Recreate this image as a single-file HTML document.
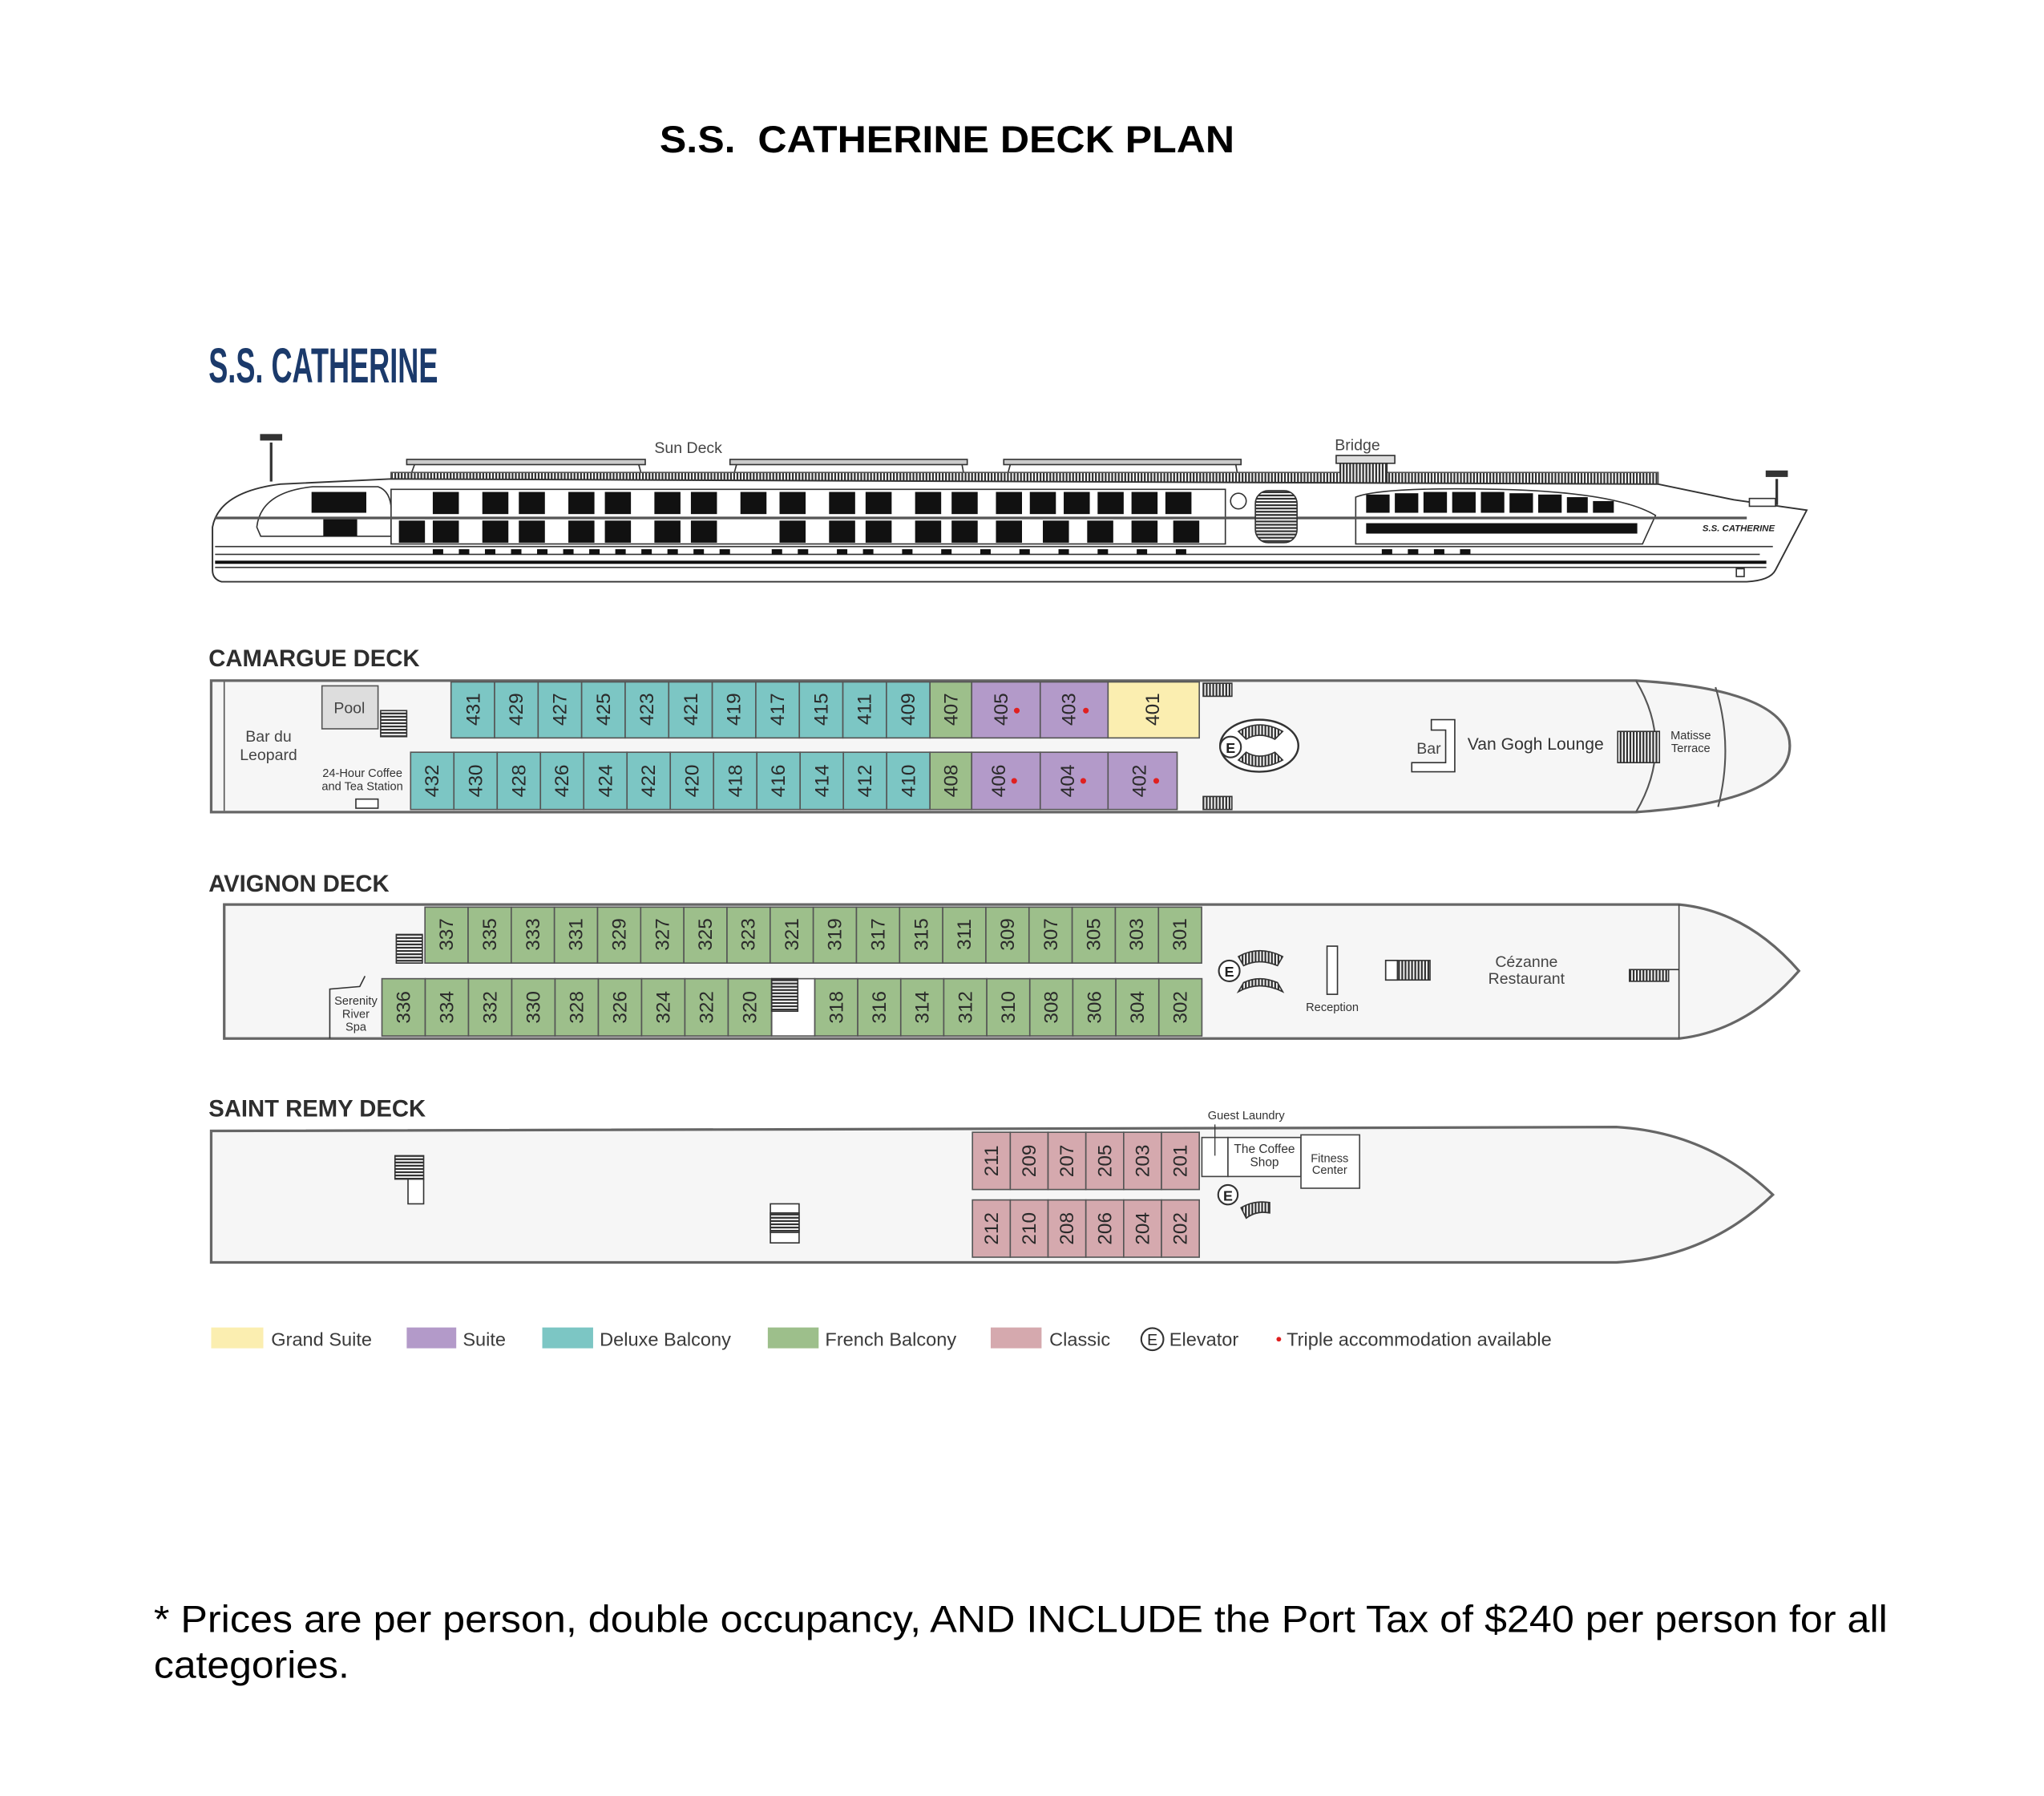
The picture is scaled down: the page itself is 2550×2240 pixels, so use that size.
<!DOCTYPE html>
<html><head><meta charset="utf-8"><style>
html,body{margin:0;padding:0;background:#fff;}
svg{display:block;}
text{font-family:"Liberation Sans",sans-serif;}
.c{font-size:15px;fill:#2a2a2a;text-anchor:middle;}
.dt{font-size:18px;font-weight:bold;fill:#2e2e2e;}
.lb{fill:#444;font-size:12px;}
.lg{fill:#3a3a3a;font-size:14.5px;}
</style></head><body>
<svg width="2550" height="2240" viewBox="0 0 1568 1380" preserveAspectRatio="none" xmlns="http://www.w3.org/2000/svg">
<defs>
<pattern id="st" width="2.5" height="10" patternUnits="userSpaceOnUse"><rect width="2.5" height="10" fill="#fff"/><rect width="1.4" height="10" fill="#333"/></pattern>
<pattern id="sth" width="10" height="2.5" patternUnits="userSpaceOnUse"><rect width="10" height="2.5" fill="#fff"/><rect width="10" height="1.4" fill="#333"/></pattern>
</defs>
<rect width="1568" height="1380" fill="#fff"/>
<text x="506" y="117" font-size="29" font-weight="bold" fill="#000" textLength="441" lengthAdjust="spacingAndGlyphs" xml:space="preserve">S.S.  CATHERINE DECK PLAN</text>
<text x="160" y="294" font-size="38" font-weight="bold" fill="#1b3a6b" textLength="176" lengthAdjust="spacingAndGlyphs">S.S. CATHERINE</text>

<!-- ship profile -->
<g stroke="#333" fill="none" stroke-width="1">
<rect x="312" y="353" width="183" height="4" fill="#ccc"/>
<rect x="560" y="353" width="182" height="4" fill="#ccc"/>
<rect x="770" y="353" width="182" height="4" fill="#ccc"/>
<line x1="318" y1="357" x2="314" y2="368"/><line x1="490" y1="357" x2="493" y2="368"/>
<line x1="565" y1="357" x2="562" y2="368"/><line x1="738" y1="357" x2="740" y2="368"/>
<line x1="775" y1="357" x2="772" y2="368"/><line x1="948" y1="357" x2="950" y2="368"/>
<rect x="300" y="363" width="972" height="9" fill="url(#st)" stroke="#555"/>
<rect x="1025" y="350" width="45" height="6" fill="#ddd"/>
<rect x="1028" y="356" width="36" height="16" fill="url(#st)"/>
<line x1="208" y1="340" x2="208" y2="370" stroke-width="2"/><rect x="200" y="334" width="16" height="4" fill="#333"/>
<line x1="1363" y1="368" x2="1363" y2="388" stroke-width="2"/><rect x="1355" y="362" width="16" height="4" fill="#333"/>
<path d="M163 405 Q168 378 215 372 L300 368 L1272 372 L1330 384 L1386 392 L1362 438 Q1358 446 1340 447 L170 447 Q163 445 163 438 Z" fill="#fff" stroke="#333" stroke-width="1.2"/>
<path d="M197 405 Q200 378 240 374 L290 374 Q302 378 300 400 L300 412 L200 412 Z" fill="#fff"/>
<path d="M300 376 L940 376 L940 418 L300 418 Z" fill="#fff"/>
<path d="M1040 418 L1040 382 Q1060 374 1150 376 Q1240 378 1270 396 L1260 418 Z" fill="#fff"/>
<line x1="165" y1="398" x2="1340" y2="398" stroke="#555" stroke-width="2"/>
<line x1="165" y1="420" x2="1360" y2="420"/>
<line x1="165" y1="426" x2="1350" y2="426"/>
<line x1="165" y1="432" x2="1355" y2="432" stroke-width="2.5" stroke="#111"/>
<line x1="165" y1="436" x2="1355" y2="436"/>
<rect x="963" y="377" width="32" height="40" rx="10" fill="url(#sth)"/>
<circle cx="950" cy="385" r="6" fill="#fff"/>
<rect x="1332" y="437" width="6" height="6" fill="#fff"/>
<rect x="1342" y="383" width="20" height="6" fill="#fff"/>
</g>
<g fill="#111">
<rect x="239" y="378" width="42" height="16"/><rect x="248" y="399" width="26" height="13"/>
<rect x="332" y="378" width="20" height="17"/><rect x="370" y="378" width="20" height="17"/><rect x="398" y="378" width="20" height="17"/><rect x="436" y="378" width="20" height="17"/><rect x="464" y="378" width="20" height="17"/><rect x="502" y="378" width="20" height="17"/><rect x="530" y="378" width="20" height="17"/><rect x="568" y="378" width="20" height="17"/><rect x="598" y="378" width="20" height="17"/><rect x="636" y="378" width="20" height="17"/><rect x="664" y="378" width="20" height="17"/><rect x="702" y="378" width="20" height="17"/><rect x="730" y="378" width="20" height="17"/><rect x="764" y="378" width="20" height="17"/><rect x="790" y="378" width="20" height="17"/><rect x="816" y="378" width="20" height="17"/><rect x="842" y="378" width="20" height="17"/><rect x="868" y="378" width="20" height="17"/><rect x="894" y="378" width="20" height="17"/>
<rect x="306" y="400" width="20" height="17"/><rect x="332" y="400" width="20" height="17"/><rect x="370" y="400" width="20" height="17"/><rect x="398" y="400" width="20" height="17"/><rect x="436" y="400" width="20" height="17"/><rect x="464" y="400" width="20" height="17"/><rect x="502" y="400" width="20" height="17"/><rect x="530" y="400" width="20" height="17"/><rect x="598" y="400" width="20" height="17"/><rect x="636" y="400" width="20" height="17"/><rect x="664" y="400" width="20" height="17"/><rect x="702" y="400" width="20" height="17"/><rect x="730" y="400" width="20" height="17"/><rect x="764" y="400" width="20" height="17"/><rect x="800" y="400" width="20" height="17"/><rect x="834" y="400" width="20" height="17"/><rect x="868" y="400" width="20" height="17"/><rect x="900" y="400" width="20" height="17"/>
<rect x="1048" y="380" width="18" height="14"/><rect x="1070" y="379" width="18" height="15"/><rect x="1092" y="378" width="18" height="16"/><rect x="1114" y="378" width="18" height="16"/><rect x="1136" y="378" width="18" height="16"/><rect x="1158" y="379" width="18" height="15"/><rect x="1180" y="380" width="18" height="14"/><rect x="1202" y="382" width="16" height="12"/><rect x="1222" y="385" width="16" height="9"/>
<rect x="1048" y="402" width="208" height="8"/>
</g>
<g fill="#111"><rect x="332" y="422" width="8" height="4"/><rect x="352" y="422" width="8" height="4"/><rect x="372" y="422" width="8" height="4"/><rect x="392" y="422" width="8" height="4"/><rect x="412" y="422" width="8" height="4"/><rect x="432" y="422" width="8" height="4"/><rect x="452" y="422" width="8" height="4"/><rect x="472" y="422" width="8" height="4"/><rect x="492" y="422" width="8" height="4"/><rect x="512" y="422" width="8" height="4"/><rect x="532" y="422" width="8" height="4"/><rect x="552" y="422" width="8" height="4"/><rect x="592" y="422" width="8" height="4"/><rect x="612" y="422" width="8" height="4"/><rect x="642" y="422" width="8" height="4"/><rect x="662" y="422" width="8" height="4"/><rect x="692" y="422" width="8" height="4"/><rect x="722" y="422" width="8" height="4"/><rect x="752" y="422" width="8" height="4"/><rect x="782" y="422" width="8" height="4"/><rect x="812" y="422" width="8" height="4"/><rect x="842" y="422" width="8" height="4"/><rect x="872" y="422" width="8" height="4"/><rect x="902" y="422" width="8" height="4"/><rect x="1060" y="422" width="8" height="4"/><rect x="1080" y="422" width="8" height="4"/><rect x="1100" y="422" width="8" height="4"/><rect x="1120" y="422" width="8" height="4"/></g>
<text x="502" y="348" class="lb">Sun Deck</text>
<text x="1024" y="346" class="lb">Bridge</text>
<text x="1306" y="408" font-size="7" font-style="italic" font-weight="bold" fill="#222" font-family="Liberation Serif">S.S. CATHERINE</text>

<!-- CAMARGUE -->
<text x="160" y="512" class="dt">CAMARGUE DECK</text>
<path d="M162 523 L1255 523 Q1373 530 1373 573 Q1373 616 1255 624 L162 624 Z" fill="#f6f6f6" stroke="#666" stroke-width="2"/>
<path d="M1255 523 Q1285 573 1255 624 M1316 528 Q1330 573 1318 620" fill="none" stroke="#555" stroke-width="1.3"/>
<line x1="172" y1="524" x2="172" y2="623" stroke="#555"/>
<text x="206" y="570" class="lb" text-anchor="middle">Bar du</text><text x="206" y="584" class="lb" text-anchor="middle">Leopard</text>
<rect x="247" y="527" width="43" height="33" fill="#ddd" stroke="#555"/><text x="268" y="548" class="lb" text-anchor="middle">Pool</text>
<rect x="292" y="546" width="20" height="20" fill="url(#sth)" stroke="#333"/>
<text x="278" y="597" font-size="9" fill="#333" text-anchor="middle">24-Hour Coffee</text><text x="278" y="607" font-size="9" fill="#333" text-anchor="middle">and Tea Station</text>
<rect x="273" y="614" width="17" height="7" fill="#fff" stroke="#333"/>
<g stroke="#555" stroke-width="1">
<rect x="346" y="524" width="33.4" height="43" fill="#7cc6c4"/><rect x="379.4" y="524" width="33.4" height="43" fill="#7cc6c4"/><rect x="412.8" y="524" width="33.4" height="43" fill="#7cc6c4"/><rect x="446.2" y="524" width="33.4" height="43" fill="#7cc6c4"/><rect x="479.6" y="524" width="33.4" height="43" fill="#7cc6c4"/><rect x="513" y="524" width="33.4" height="43" fill="#7cc6c4"/><rect x="546.4" y="524" width="33.4" height="43" fill="#7cc6c4"/><rect x="579.8" y="524" width="33.4" height="43" fill="#7cc6c4"/><rect x="613.2" y="524" width="33.4" height="43" fill="#7cc6c4"/><rect x="646.6" y="524" width="33.4" height="43" fill="#7cc6c4"/><rect x="680" y="524" width="33.4" height="43" fill="#7cc6c4"/>
<rect x="713.4" y="524" width="32" height="43" fill="#9dbf8b"/><rect x="745.4" y="524" width="52.6" height="43" fill="#b39ac9"/><rect x="798" y="524" width="52" height="43" fill="#b39ac9"/><rect x="850" y="524" width="70" height="43" fill="#fbeeb0"/>
<rect x="315" y="578" width="33.2" height="44" fill="#7cc6c4"/><rect x="348.2" y="578" width="33.2" height="44" fill="#7cc6c4"/><rect x="381.4" y="578" width="33.2" height="44" fill="#7cc6c4"/><rect x="414.6" y="578" width="33.2" height="44" fill="#7cc6c4"/><rect x="447.8" y="578" width="33.2" height="44" fill="#7cc6c4"/><rect x="481" y="578" width="33.2" height="44" fill="#7cc6c4"/><rect x="514.2" y="578" width="33.2" height="44" fill="#7cc6c4"/><rect x="547.4" y="578" width="33.2" height="44" fill="#7cc6c4"/><rect x="580.6" y="578" width="33.2" height="44" fill="#7cc6c4"/><rect x="613.8" y="578" width="33.2" height="44" fill="#7cc6c4"/><rect x="647" y="578" width="33.2" height="44" fill="#7cc6c4"/><rect x="680.2" y="578" width="33.2" height="44" fill="#7cc6c4"/>
<rect x="713.4" y="578" width="32" height="44" fill="#9dbf8b"/><rect x="745.4" y="578" width="52.6" height="44" fill="#b39ac9"/><rect x="798" y="578" width="52" height="44" fill="#b39ac9"/><rect x="850" y="578" width="53" height="44" fill="#b39ac9"/>
</g>
<g>
<text class="c" transform="translate(363 545) rotate(-90)" dy="5">431</text><text class="c" transform="translate(396 545) rotate(-90)" dy="5">429</text><text class="c" transform="translate(429.5 545) rotate(-90)" dy="5">427</text><text class="c" transform="translate(463 545) rotate(-90)" dy="5">425</text><text class="c" transform="translate(496 545) rotate(-90)" dy="5">423</text><text class="c" transform="translate(530 545) rotate(-90)" dy="5">421</text><text class="c" transform="translate(563 545) rotate(-90)" dy="5">419</text><text class="c" transform="translate(596.5 545) rotate(-90)" dy="5">417</text><text class="c" transform="translate(630 545) rotate(-90)" dy="5">415</text><text class="c" transform="translate(663 545) rotate(-90)" dy="5">411</text><text class="c" transform="translate(696.5 545) rotate(-90)" dy="5">409</text><text class="c" transform="translate(729.5 545) rotate(-90)" dy="5">407</text><text class="c" transform="translate(768 545) rotate(-90)" dy="5">405</text><text class="c" transform="translate(820 545) rotate(-90)" dy="5">403</text><text class="c" transform="translate(884 545) rotate(-90)" dy="5">401</text>
<text class="c" transform="translate(331.5 600) rotate(-90)" dy="5">432</text><text class="c" transform="translate(365 600) rotate(-90)" dy="5">430</text><text class="c" transform="translate(398 600) rotate(-90)" dy="5">428</text><text class="c" transform="translate(431 600) rotate(-90)" dy="5">426</text><text class="c" transform="translate(464.5 600) rotate(-90)" dy="5">424</text><text class="c" transform="translate(497.5 600) rotate(-90)" dy="5">422</text><text class="c" transform="translate(531 600) rotate(-90)" dy="5">420</text><text class="c" transform="translate(564 600) rotate(-90)" dy="5">418</text><text class="c" transform="translate(597 600) rotate(-90)" dy="5">416</text><text class="c" transform="translate(630.5 600) rotate(-90)" dy="5">414</text><text class="c" transform="translate(663.5 600) rotate(-90)" dy="5">412</text><text class="c" transform="translate(697 600) rotate(-90)" dy="5">410</text><text class="c" transform="translate(729.5 600) rotate(-90)" dy="5">408</text><text class="c" transform="translate(766 600) rotate(-90)" dy="5">406</text><text class="c" transform="translate(819 600) rotate(-90)" dy="5">404</text><text class="c" transform="translate(874 600) rotate(-90)" dy="5">402</text>
</g>
<g fill="#e02020"><circle cx="780" cy="546" r="2.2"/><circle cx="833" cy="546" r="2.2"/><circle cx="778" cy="600" r="2.2"/><circle cx="831" cy="600" r="2.2"/><circle cx="887" cy="600" r="2.2"/></g>
<rect x="923" y="525" width="22" height="10" fill="url(#st)" stroke="#333"/>
<rect x="923" y="612" width="22" height="10" fill="url(#st)" stroke="#333"/>
<ellipse cx="966" cy="573" rx="30" ry="20" fill="#fff" stroke="#333" stroke-width="1.5"/>
<path d="M950 562 Q966 552 984 562 L978 568 Q966 562 956 568 Z" fill="url(#st)" stroke="#333"/>
<path d="M950 584 Q966 594 984 584 L978 578 Q966 584 956 578 Z" fill="url(#st)" stroke="#333"/>
<circle cx="944" cy="574" r="8" fill="#fff" stroke="#333" stroke-width="1.3"/><text x="944" y="578.5" font-size="11" font-weight="bold" text-anchor="middle" fill="#222">E</text>
<path d="M1098 553 L1116 553 L1116 593 L1083 593 L1083 586 L1109 586 L1109 561 L1098 561 Z" fill="#fff" stroke="#333"/>
<text x="1096" y="579" class="lb" text-anchor="middle">Bar</text>
<text x="1178" y="576" font-size="13" fill="#333" text-anchor="middle">Van Gogh Lounge</text>
<rect x="1241" y="562" width="32" height="24" fill="url(#st)" stroke="#333"/>
<text x="1297" y="568" font-size="9" fill="#333" text-anchor="middle">Matisse</text><text x="1297" y="578" font-size="9" fill="#333" text-anchor="middle">Terrace</text>

<!-- AVIGNON -->
<text x="160" y="685" class="dt">AVIGNON DECK</text>
<path d="M172 695 L1288 695 Q1340 700 1380 746 Q1340 792 1288 798 L172 798 Z" fill="#f6f6f6" stroke="#666" stroke-width="2"/>
<line x1="1288" y1="695" x2="1288" y2="798" stroke="#444"/>
<g stroke="#555" fill="#9dbf8b">
<rect x="326" y="697" width="33.1" height="43"/><rect x="359.1" y="697" width="33.1" height="43"/><rect x="392.2" y="697" width="33.1" height="43"/><rect x="425.3" y="697" width="33.1" height="43"/><rect x="458.4" y="697" width="33.1" height="43"/><rect x="491.5" y="697" width="33.1" height="43"/><rect x="524.6" y="697" width="33.1" height="43"/><rect x="557.7" y="697" width="33.1" height="43"/><rect x="590.8" y="697" width="33.1" height="43"/><rect x="623.9" y="697" width="33.1" height="43"/><rect x="657" y="697" width="33.1" height="43"/><rect x="690.1" y="697" width="33.1" height="43"/><rect x="723.2" y="697" width="33.1" height="43"/><rect x="756.3" y="697" width="33.1" height="43"/><rect x="789.4" y="697" width="33.1" height="43"/><rect x="822.5" y="697" width="33.1" height="43"/><rect x="855.6" y="697" width="33.1" height="43"/><rect x="888.7" y="697" width="33.1" height="43"/>
<rect x="293" y="752" width="33.2" height="44"/><rect x="326.2" y="752" width="33.2" height="44"/><rect x="359.4" y="752" width="33.2" height="44"/><rect x="392.6" y="752" width="33.2" height="44"/><rect x="425.8" y="752" width="33.2" height="44"/><rect x="459" y="752" width="33.2" height="44"/><rect x="492.2" y="752" width="33.2" height="44"/><rect x="525.4" y="752" width="33.2" height="44"/><rect x="558.6" y="752" width="33.2" height="44"/>
<rect x="625" y="752" width="33" height="44"/><rect x="658" y="752" width="33" height="44"/><rect x="691" y="752" width="33" height="44"/><rect x="724" y="752" width="33" height="44"/><rect x="757" y="752" width="33" height="44"/><rect x="790" y="752" width="33" height="44"/><rect x="823" y="752" width="33" height="44"/><rect x="856" y="752" width="33" height="44"/><rect x="889" y="752" width="33" height="44"/>
</g>
<g>
<text class="c" transform="translate(342.5 718) rotate(-90)" dy="5">337</text><text class="c" transform="translate(375.6 718) rotate(-90)" dy="5">335</text><text class="c" transform="translate(408.7 718) rotate(-90)" dy="5">333</text><text class="c" transform="translate(441.8 718) rotate(-90)" dy="5">331</text><text class="c" transform="translate(475 718) rotate(-90)" dy="5">329</text><text class="c" transform="translate(508 718) rotate(-90)" dy="5">327</text><text class="c" transform="translate(541 718) rotate(-90)" dy="5">325</text><text class="c" transform="translate(574 718) rotate(-90)" dy="5">323</text><text class="c" transform="translate(607.3 718) rotate(-90)" dy="5">321</text><text class="c" transform="translate(640.4 718) rotate(-90)" dy="5">319</text><text class="c" transform="translate(673.5 718) rotate(-90)" dy="5">317</text><text class="c" transform="translate(706.6 718) rotate(-90)" dy="5">315</text><text class="c" transform="translate(739.7 718) rotate(-90)" dy="5">311</text><text class="c" transform="translate(772.8 718) rotate(-90)" dy="5">309</text><text class="c" transform="translate(806 718) rotate(-90)" dy="5">307</text><text class="c" transform="translate(839 718) rotate(-90)" dy="5">305</text><text class="c" transform="translate(872 718) rotate(-90)" dy="5">303</text><text class="c" transform="translate(905.2 718) rotate(-90)" dy="5">301</text>
<text class="c" transform="translate(309.6 774) rotate(-90)" dy="5">336</text><text class="c" transform="translate(342.8 774) rotate(-90)" dy="5">334</text><text class="c" transform="translate(376 774) rotate(-90)" dy="5">332</text><text class="c" transform="translate(409.2 774) rotate(-90)" dy="5">330</text><text class="c" transform="translate(442.4 774) rotate(-90)" dy="5">328</text><text class="c" transform="translate(475.6 774) rotate(-90)" dy="5">326</text><text class="c" transform="translate(508.8 774) rotate(-90)" dy="5">324</text><text class="c" transform="translate(542 774) rotate(-90)" dy="5">322</text><text class="c" transform="translate(575.2 774) rotate(-90)" dy="5">320</text>
<text class="c" transform="translate(641.5 774) rotate(-90)" dy="5">318</text><text class="c" transform="translate(674.5 774) rotate(-90)" dy="5">316</text><text class="c" transform="translate(707.5 774) rotate(-90)" dy="5">314</text><text class="c" transform="translate(740.5 774) rotate(-90)" dy="5">312</text><text class="c" transform="translate(773.5 774) rotate(-90)" dy="5">310</text><text class="c" transform="translate(806.5 774) rotate(-90)" dy="5">308</text><text class="c" transform="translate(839.5 774) rotate(-90)" dy="5">306</text><text class="c" transform="translate(872.5 774) rotate(-90)" dy="5">304</text><text class="c" transform="translate(905.5 774) rotate(-90)" dy="5">302</text>
</g>
<rect x="592" y="752" width="33" height="44" fill="#fff" stroke="#555"/>
<rect x="592" y="752" width="20" height="25" fill="url(#sth)" stroke="#333"/>
<rect x="304" y="718" width="20" height="22" fill="url(#sth)" stroke="#333"/>
<path d="M253 798 L253 760 L276 758 L280 750" fill="none" stroke="#333"/>
<text x="273" y="772" font-size="9" fill="#333" text-anchor="middle">Serenity</text><text x="273" y="782" font-size="9" fill="#333" text-anchor="middle">River</text><text x="273" y="792" font-size="9" fill="#333" text-anchor="middle">Spa</text>
<path d="M950 735 Q966 726 984 735 L980 742 Q966 736 954 742 Z" fill="url(#st)" stroke="#333"/>
<path d="M950 758 Q966 749 984 758 L980 751 Q966 745 954 751 Z" fill="url(#st)" stroke="#333" transform="translate(0 4)"/>
<circle cx="943" cy="746" r="8" fill="#fff" stroke="#333" stroke-width="1.3"/><text x="943" y="750.5" font-size="11" font-weight="bold" text-anchor="middle" fill="#222">E</text>
<rect x="1018" y="727" width="8" height="37" fill="#fff" stroke="#333"/>
<text x="1022" y="777" font-size="9" fill="#333" text-anchor="middle">Reception</text>
<rect x="1063" y="738" width="34" height="15" fill="url(#st)" stroke="#333"/><rect x="1063" y="738" width="9" height="15" fill="#fff" stroke="#333"/>
<text x="1171" y="743" class="lb" text-anchor="middle" font-size="12.5">Cézanne</text><text x="1171" y="756" class="lb" text-anchor="middle" font-size="12.5">Restaurant</text>
<rect x="1250" y="745" width="30" height="9" fill="url(#st)" stroke="#333"/><line x1="1280" y1="745" x2="1288" y2="745" stroke="#333"/>

<!-- SAINT REMY -->
<text x="160" y="858" class="dt">SAINT REMY DECK</text>
<path d="M162 869 L1240 866 Q1310 870 1360 918 Q1310 966 1240 970 L162 970 Z" fill="#f6f6f6" stroke="#666" stroke-width="2"/>
<g stroke="#555" fill="#d5a9ae">
<rect x="746" y="870" width="29" height="44"/><rect x="775" y="870" width="29" height="44"/><rect x="804" y="870" width="29" height="44"/><rect x="833" y="870" width="29" height="44"/><rect x="862" y="870" width="29" height="44"/><rect x="891" y="870" width="29" height="44"/>
<rect x="746" y="922" width="29" height="44"/><rect x="775" y="922" width="29" height="44"/><rect x="804" y="922" width="29" height="44"/><rect x="833" y="922" width="29" height="44"/><rect x="862" y="922" width="29" height="44"/><rect x="891" y="922" width="29" height="44"/>
</g>
<g>
<text class="c" transform="translate(760.5 892) rotate(-90)" dy="5">211</text><text class="c" transform="translate(789.5 892) rotate(-90)" dy="5">209</text><text class="c" transform="translate(818.5 892) rotate(-90)" dy="5">207</text><text class="c" transform="translate(847.5 892) rotate(-90)" dy="5">205</text><text class="c" transform="translate(876.5 892) rotate(-90)" dy="5">203</text><text class="c" transform="translate(905.5 892) rotate(-90)" dy="5">201</text>
<text class="c" transform="translate(760.5 944) rotate(-90)" dy="5">212</text><text class="c" transform="translate(789.5 944) rotate(-90)" dy="5">210</text><text class="c" transform="translate(818.5 944) rotate(-90)" dy="5">208</text><text class="c" transform="translate(847.5 944) rotate(-90)" dy="5">206</text><text class="c" transform="translate(876.5 944) rotate(-90)" dy="5">204</text><text class="c" transform="translate(905.5 944) rotate(-90)" dy="5">202</text>
</g>
<rect x="922" y="874" width="20" height="30" fill="#fff" stroke="#444"/>
<rect x="942" y="874" width="56" height="30" fill="#fff" stroke="#444"/>
<rect x="998" y="872" width="45" height="41" fill="#fff" stroke="#444"/>
<text x="956" y="860" font-size="9" fill="#333" text-anchor="middle">Guest Laundry</text>
<line x1="932" y1="864" x2="932" y2="888" stroke="#333" stroke-width="0.8"/>
<text x="970" y="886" font-size="9.5" fill="#333" text-anchor="middle">The Coffee</text><text x="970" y="896" font-size="9.5" fill="#333" text-anchor="middle">Shop</text>
<text x="1020" y="893" font-size="9" fill="#333" text-anchor="middle">Fitness</text><text x="1020" y="902" font-size="9" fill="#333" text-anchor="middle">Center</text>
<circle cx="942" cy="918" r="7.5" fill="#fff" stroke="#333" stroke-width="1.3"/><text x="942" y="922.5" font-size="11" font-weight="bold" text-anchor="middle" fill="#222">E</text>
<path d="M952 928 Q962 922 974 924 L974 932 Q964 930 956 936 Z" fill="url(#st)" stroke="#333"/>
<rect x="303" y="888" width="22" height="18" fill="url(#sth)" stroke="#333"/><rect x="313" y="906" width="12" height="19" fill="#fff" stroke="#333"/>
<rect x="591" y="925" width="22" height="30" fill="#fff" stroke="#333"/><rect x="591" y="932" width="22" height="15" fill="url(#sth)" stroke="#333"/>

<!-- legend -->
<rect x="162" y="1020" width="40" height="16" fill="#fbeeb0"/><text x="208" y="1034" class="lg">Grand Suite</text>
<rect x="312" y="1020" width="38" height="16" fill="#b39ac9"/><text x="355" y="1034" class="lg">Suite</text>
<rect x="416" y="1020" width="39" height="16" fill="#7cc6c4"/><text x="460" y="1034" class="lg">Deluxe Balcony</text>
<rect x="589" y="1020" width="39" height="16" fill="#9dbf8b"/><text x="633" y="1034" class="lg">French Balcony</text>
<rect x="760" y="1020" width="39" height="16" fill="#d5a9ae"/><text x="805" y="1034" class="lg">Classic</text>
<circle cx="884" cy="1029" r="8.5" fill="#fff" stroke="#333" stroke-width="1.3"/><text x="884" y="1033.5" font-size="12" text-anchor="middle" fill="#222">E</text>
<text x="897" y="1034" class="lg">Elevator</text>
<circle cx="981" cy="1029" r="1.8" fill="#e02020"/><text x="987" y="1034" class="lg">Triple accommodation available</text>

<text x="118" y="1254" font-size="29" fill="#000" textLength="1330" lengthAdjust="spacingAndGlyphs">* Prices are per person, double occupancy, AND INCLUDE the Port Tax of $240 per person for all</text>
<text x="118" y="1289" font-size="29" fill="#000" textLength="150" lengthAdjust="spacingAndGlyphs">categories.</text>
</svg>
</body></html>
